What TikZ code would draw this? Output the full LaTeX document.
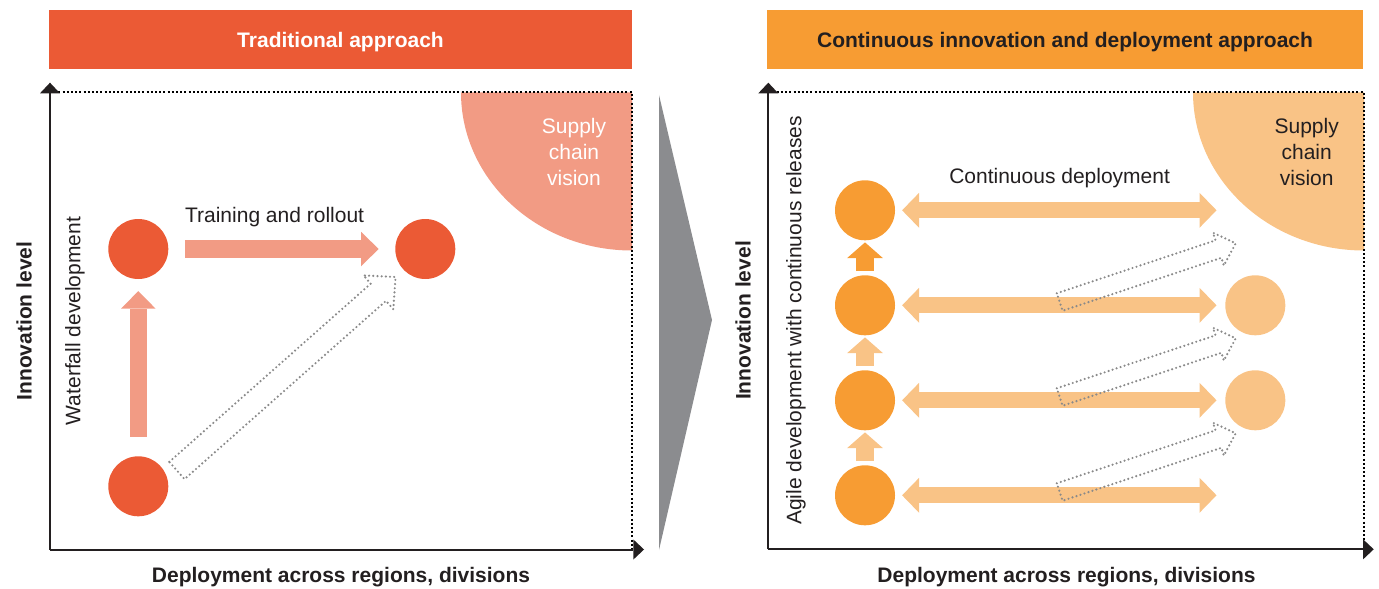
\documentclass[tikz,border=0pt]{standalone}
\usepackage{fontspec}
\setmainfont{Liberation Sans}
\usetikzlibrary{arrows.meta,positioning}

\definecolor{tradred}{HTML}{EB5A35}
\definecolor{tradpink}{HTML}{F29B84}
\definecolor{agileorange}{HTML}{F79C33}
\definecolor{agilelight}{HTML}{F9C386}
\definecolor{wedgegray}{HTML}{8B8C8F}
\definecolor{dotgray}{HTML}{8A8A8A}
\definecolor{inkdark}{HTML}{231F20}

% outlined (dotted) block arrow: tail, angle, length, half shaft, half head, head length
\newcommand{\hollowarrow}[6]{%
  \begin{scope}[shift={(#1)}, rotate=#2]
    \draw[dotline] (0,-#4) -- (#3-#6,-#4) -- (#3-#6,-#5) -- (#3,0)
      -- (#3-#6,#5) -- (#3-#6,#4) -- (0,#4) -- cycle;
  \end{scope}}

\begin{document}
\begin{tikzpicture}[x=0.5pt, y=-0.5pt,
  font=\fontsize{10.5}{13}\selectfont,
  titlebar/.style={minimum height=29.5pt, inner sep=0pt, text depth=0pt, font=\fontsize{10.5}{13}\selectfont\bfseries},
  dot/.style={circle, fill=#1, minimum size=30pt, inner sep=0pt},
  axis/.style={line width=1pt, draw=inkdark, -{Triangle[length=5.3pt, width=10pt, line width=0pt]}},
  frameline/.style={draw=black, line width=1pt, dash pattern=on 1pt off 1.1pt},
  dotline/.style={draw=dotgray, line width=1.2pt, line cap=round, line join=round, dash pattern=on 0pt off 2.1pt},
  fatarrow/.style={draw=#1, line width=8.75pt, -{Triangle[length=8.75pt, width=17.25pt, line width=0pt]}},
  twowayarrow/.style={draw=#1, line width=8pt, {Triangle[length=8.5pt, width=17.5pt, line width=0pt]}-{Triangle[length=8.5pt, width=17.5pt, line width=0pt]}},
  stubarrow/.style={draw=#1, line width=9pt, -{Triangle[length=7.8pt, width=17.8pt, line width=0pt]}},
  axislabel/.style={font=\fontsize{10.5}{13}\selectfont\bfseries, text=inkdark},
  plainlabel/.style={text=inkdark}]

\useasboundingbox (0,0) rectangle (1379,588);

% ---------------- traditional approach ----------------
\node[titlebar, fill=tradred, text=white, minimum width=291.5pt] (tradtitle) at (340.5,39.5) {Traditional approach};

% supply chain vision corner
\fill[tradpink] (632,92.5) -- (461,92.5) arc[start angle=180, end angle=90, x radius=171, y radius=158] -- cycle;
\node[align=center, text=white] (tradvision) at (574,151.5) {Supply\\chain\\vision};

% frame and axes
\coordinate (tradorig) at (50,549.5);
\coordinate (tradtop) at (50,82.7);
\coordinate (tradright) at (644,549.5);
\draw[frameline] (50,92.5) -- (632,92.5) -- (632,549.5);
\draw[axis] (tradorig) -- (tradtop);
\draw[axis] (tradorig) -- (tradright);

% milestones
\node[dot=tradred] (trdev) at (138.3,249) {};
\node[dot=tradred] (trroll) at (425.3,249) {};
\node[dot=tradred] (trstart) at (138.3,486.3) {};

\draw[fatarrow=tradpink, shorten <=8.1pt, shorten >=8.15pt] (trdev.east) -- (trroll.west);
\draw[fatarrow=tradpink, shorten <=9.5pt, shorten >=5.85pt] (trstart.north) -- (trdev.south);
\hollowarrow{176.9,470.5}{41.5}{292}{11.5}{22.5}{23}

\node[plainlabel] (trrolllabel) at (274.6,216.7) {Training and rollout};
\node[plainlabel, rotate=90] (trwaterlabel) at (75,321) {Waterfall development};
\node[axislabel, rotate=90] (trylabel) at (24,321) {Innovation level};
\node[axislabel] (trxlabel) at (341,577.6) {Deployment across regions, divisions};

% ---------------- transition wedge ----------------
\fill[wedgegray] (659,95) -- (712,320) -- (659,550) -- cycle;

% ---------------- continuous approach ----------------
\node[titlebar, fill=agileorange, text=inkdark, minimum width=298pt] (agiletitle) at (1065,39.5) {Continuous innovation and deployment approach};

% supply chain vision corner
\fill[agilelight] (1364,92.5) -- (1193,92.5) arc[start angle=180, end angle=90, x radius=171, y radius=158] -- cycle;
\node[align=center, text=inkdark] (agilevision) at (1306.7,151.5) {Supply\\chain\\vision};

% frame and axes
\coordinate (agorig) at (768.3,549.3);
\coordinate (agtop) at (768.3,82.7);
\coordinate (agright) at (1373.7,549.3);
\draw[frameline] (768.3,92.5) -- (1364,92.5) -- (1364,549.3);
\draw[axis] (agorig) -- (agtop);
\draw[axis] (agorig) -- (agright);

% releases and deployments, one row each
\foreach \i/\y in {1/210.3,2/305.3,3/400.3,4/495.3} {
  \node[dot=agileorange] (agrel\i) at (865,\y) {};
  \coordinate (agreach\i) at (1216.5,\y);
}
\node[dot=agilelight] (agreg2) at (1255.3,305.3) {};
\node[dot=agilelight] (agreg3) at (1255.3,400.3) {};

\foreach \i in {1,...,4}
  \draw[twowayarrow=agilelight, shorten <=3.35pt] (agrel\i.east) -- (agreach\i);

% release steps
\draw[stubarrow=agileorange, shorten <=1.85pt, shorten >=0.85pt] (agrel2.north) -- (agrel1.south);
\draw[stubarrow=agilelight, shorten <=1.85pt, shorten >=0.85pt] (agrel3.north) -- (agrel2.south);
\draw[stubarrow=agilelight, shorten <=1.85pt, shorten >=0.85pt] (agrel4.north) -- (agrel3.south);

% spread to further regions
\foreach \y in {302,397,492} {
  \hollowarrow{1059.7,\y}{18.44}{185.5}{9.2}{17.3}{18.2}
}

\node[plainlabel] (agdeplabel) at (1059.6,178.3) {Continuous deployment};
\node[plainlabel, rotate=90] (agagilelabel) at (796,320.5) {Agile development with continuous releases};
\node[axislabel, rotate=90] (agylabel) at (743,320.5) {Innovation level};
\node[axislabel] (agxlabel) at (1066.5,577.6) {Deployment across regions, divisions};

\end{tikzpicture}
\end{document}
